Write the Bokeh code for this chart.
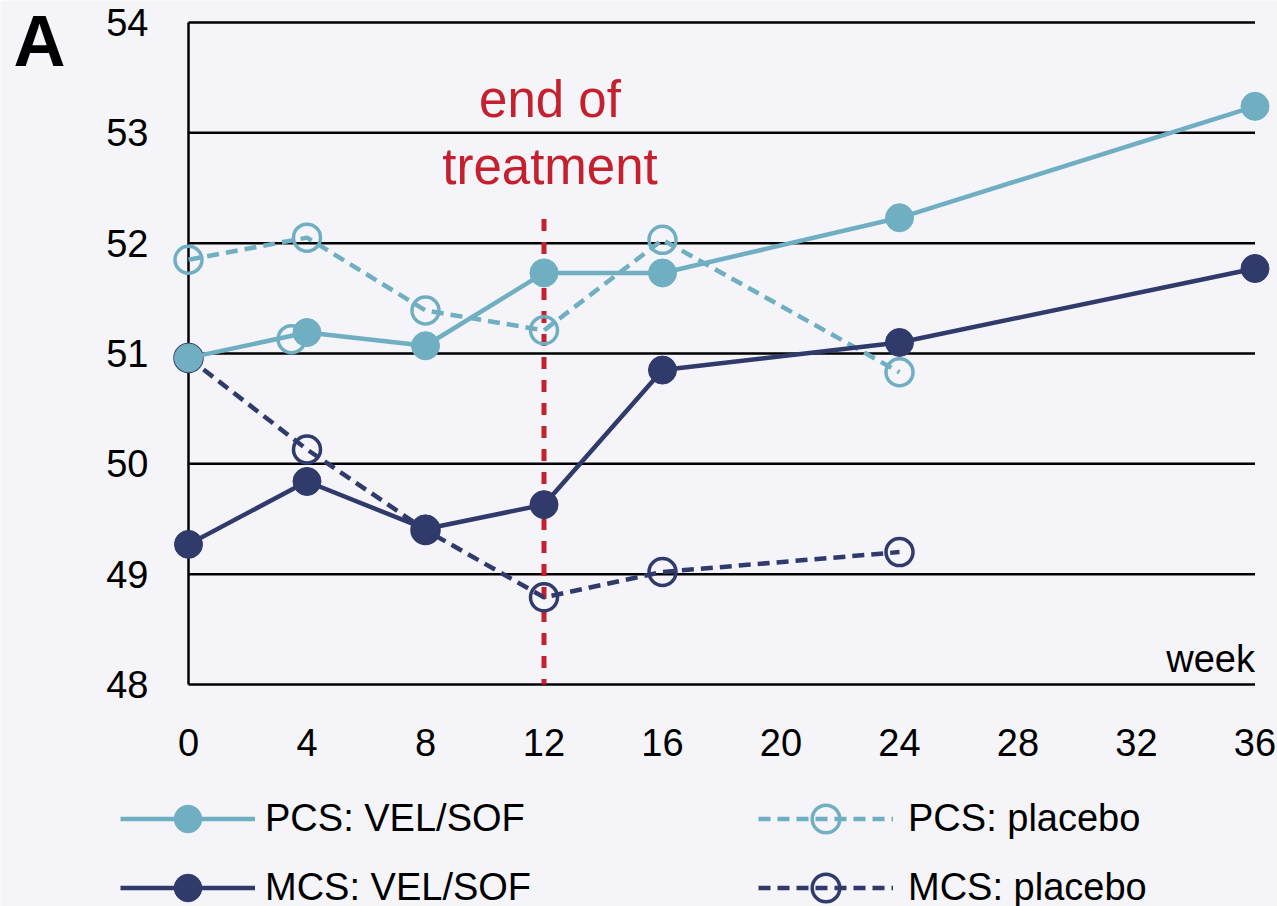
from bokeh.plotting import figure
from bokeh.models import Range1d, Legend, LegendItem
from bokeh.core.properties import value
from bokeh.embed import file_html
from bokeh.resources import INLINE

# ---------------- data ----------------
week_ticks = [0, 4, 8, 12, 16, 20, 24, 28, 32, 36]
score_ticks = [48, 49, 50, 51, 52, 53, 54]

pcs_vel_weeks = [0, 4, 8, 12, 16, 24, 36]
pcs_vel_vals = [50.96, 51.19, 51.07, 51.73, 51.73, 52.23, 53.24]

pcs_pla_weeks = [0, 4, 8, 12, 16, 24]
pcs_pla_vals = [51.85, 52.05, 51.39, 51.21, 52.03, 50.83]

mcs_vel_weeks = [0, 4, 8, 12, 16, 24, 36]
mcs_vel_vals = [49.27, 49.84, 49.41, 49.63, 50.85, 51.10, 51.77]

mcs_pla_weeks = [0, 4, 8, 12, 16, 24]
mcs_pla_vals = [50.96, 50.13, 49.40, 48.79, 49.02, 49.20]

stray_weeks = [3.48]
stray_vals = [51.13]

end_of_treatment_week = 12
end_line_top = 52.22

# ---------------- layout / style ----------------
FONT = "Liberation Sans"
BG = "#F4F4F9"
LIGHT = "#70AEC2"
DARK = "#303A6B"
RED = "#C4202E"

W, H = 1277, 906
x0_px, px_per_week = 188, 29.625          # pixel of week 0, pixels per week
y54_px, px_per_unit = 22, (684 - 22) / 6  # pixel of top tick, pixels per unit

x_start = -x0_px / px_per_week
x_end = x_start + W / px_per_week
y_end = score_ticks[-1] + y54_px / px_per_unit
y_start = y_end - H / px_per_unit

def dx(px):
    return px / px_per_week

def dy(px):
    return px / px_per_unit

p = figure(width=W, height=H, output_backend="svg", toolbar_location=None,
           x_range=Range1d(x_start, x_end), y_range=Range1d(y_start, y_end),
           min_border=0, background_fill_color=BG, border_fill_color=BG,
           outline_line_color=None)
p.axis.visible = False
p.grid.visible = False

# gridlines / axis line
p.segment(x0=[week_ticks[0]] * len(score_ticks), x1=[week_ticks[-1]] * len(score_ticks),
          y0=score_ticks, y1=score_ticks, line_color="black", line_width=2.5)
p.segment(x0=[week_ticks[0]], x1=[week_ticks[0]], y0=[score_ticks[0]], y1=[score_ticks[-1]],
          line_color="black", line_width=2.5)

TXT = dict(text_font=value(FONT), text_baseline="middle")

# tick labels
p.text(x=[week_ticks[0] - dx(40)] * len(score_ticks), y=score_ticks,
       text=[str(t) for t in score_ticks], text_font_size="38px",
       text_color="black", text_align="right", **TXT)
p.text(x=week_ticks, y=[score_ticks[0] - dy(57.5)] * len(week_ticks),
       text=[str(t) for t in week_ticks], text_font_size="38px",
       text_color="black", text_align="center", **TXT)
p.text(x=[week_ticks[-1]], y=[score_ticks[0] + dy(26)], text=["week"],
       text_font_size="38px", text_color="black", text_align="right", **TXT)

# panel letter
p.text(x=[week_ticks[0] - dx(175)], y=[score_ticks[-1] - dy(18)], text=["A"],
       text_font_size="72px", text_font_style="bold",
       text_color="black", text_align="left", **TXT)

# end of treatment line
p.line([end_of_treatment_week, end_of_treatment_week], [end_line_top, score_ticks[0]],
       line_color=RED, line_width=5, line_dash="12 11")
p.text(x=[end_of_treatment_week + dx(6)] * 2,
       y=[score_ticks[-1] - dy(77), score_ticks[-1] - dy(143.5)],
       text=["end of", "treatment"], text_font_size="51px",
       text_color=RED, text_align="center", **TXT)

DASH = "12 7"
LW = 4.5
# PCS placebo
l2 = p.line(pcs_pla_weeks, pcs_pla_vals, line_color=LIGHT, line_width=LW, line_dash=DASH)
s2 = p.scatter(pcs_pla_weeks, pcs_pla_vals, size=27, marker="circle", fill_alpha=0,
               line_color=LIGHT, line_width=3.5)
# MCS placebo
l4 = p.line(mcs_pla_weeks, mcs_pla_vals, line_color=DARK, line_width=LW, line_dash=DASH)
s4 = p.scatter(mcs_pla_weeks, mcs_pla_vals, size=27, marker="circle", fill_alpha=0,
               line_color=DARK, line_width=3.5)
p.scatter(stray_weeks, stray_vals, size=27, marker="circle", fill_alpha=0,
          line_color=LIGHT, line_width=3.5)
# PCS VEL/SOF
l1 = p.line(pcs_vel_weeks, pcs_vel_vals, line_color=LIGHT, line_width=LW)
s1 = p.scatter(pcs_vel_weeks, pcs_vel_vals, size=28, marker="circle", fill_color=LIGHT,
               line_color=LIGHT, line_width=1)
# MCS VEL/SOF
l3 = p.line(mcs_vel_weeks, mcs_vel_vals, line_color=DARK, line_width=LW)
s3 = p.scatter(mcs_vel_weeks, mcs_vel_vals, size=28, marker="circle", fill_color=DARK,
               line_color=DARK, line_width=1)

GH = 69  # legend row height

def make_legend(items, loc, standoff):
    lg = Legend(items=items, location=loc, orientation="vertical",
                glyph_width=135, glyph_height=GH, spacing=0, padding=0, margin=0,
                label_standoff=standoff, label_text_font=FONT, label_text_font_size="38px",
                label_text_color="black", border_line_color=None, background_fill_alpha=0)
    p.add_layout(lg)

# legend: first item centred at y=818 px
legend_bottom_px = 818 - GH / 2 + 2 * GH
make_legend([LegendItem(label="PCS: VEL/SOF", renderers=[l1, s1]),
             LegendItem(label="MCS: VEL/SOF", renderers=[l3, s3])],
            (120, H - legend_bottom_px), 10)
make_legend([LegendItem(label="PCS: placebo", renderers=[l2, s2]),
             LegendItem(label="MCS: placebo", renderers=[l4, s4])],
            (758, H - legend_bottom_px), 15)

open("out.html", "w").write(file_html(p, INLINE))
